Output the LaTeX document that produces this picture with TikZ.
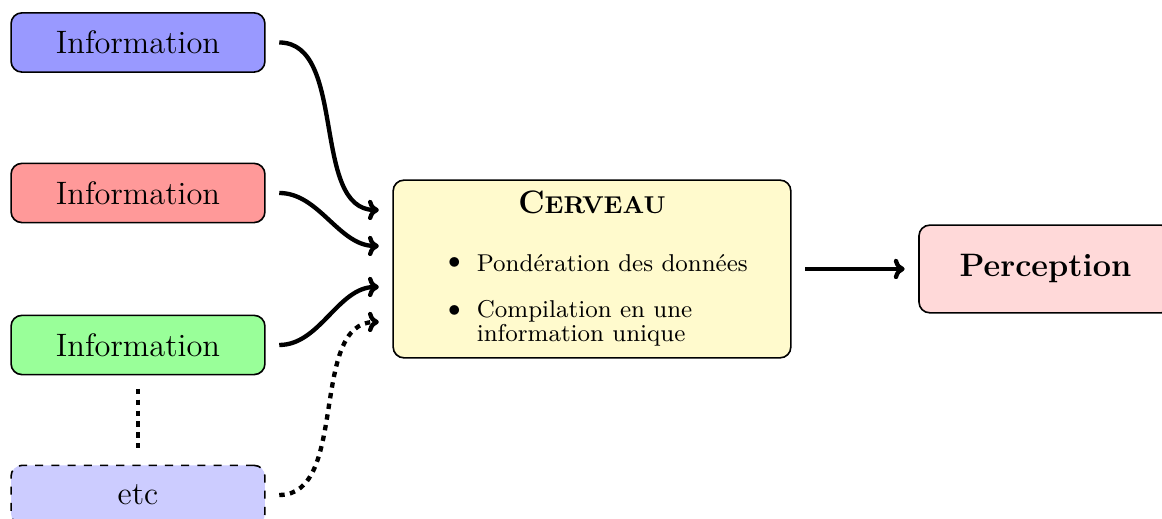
\documentclass[tikz,border=0pt]{standalone}
\usepackage{tikz}
\usetikzlibrary{calc,positioning,arrows.meta}
\definecolor{cervfill}{RGB}{255,250,205}

\begin{document}
\begin{tikzpicture}[x=0.013cm,y=0.013cm,
  infobox/.style={draw,semithick,rounded corners,minimum width=3.3cm,minimum height=0.77cm,font=\large},
  fleche/.style={-{To[length=4pt,width=7.5pt]},ultra thick,shorten <=5pt,shorten >=5pt},
  pointille/.style={ultra thick,dash pattern=on 2pt off 2pt,shorten <=5pt,shorten >=5pt}]
\useasboundingbox (0,0) rectangle (1162,519);
\node[infobox,fill=blue!40] (info1) at (138,476.5) {Information};
\node[infobox,fill=red!40] (info2) at (138,326) {Information};
\node[infobox,fill=green!40] (info3) at (138,174) {Information};
\node[infobox,fill=blue!20,dashed] (etc) at (138,24) {etc};
\node[draw,semithick,rounded corners,fill=cervfill,minimum width=5.17cm,minimum height=2.31cm] (cerv) at (592,250) {};
\node[font=\large\bfseries] (titre) at ($(cerv.north)+(0,-23)$) {C{\small ERVEAU}};
\node[anchor=west,inner xsep=0pt,font=\small] (item1) at ($(cerv.west)+(84,6)$) {Pondération des données};
\node[anchor=west,inner xsep=0pt,font=\small,align=left] (item2) at ($(cerv.west)+(84,-54.5)$) {Compilation en une\\[-2pt]information unique};
\node[font=\small] (puce1) at ($(cerv.west)+(62,6)$) {$\bullet$};
\node[font=\small] (puce2) at ($(cerv.west)+(62,-42)$) {$\bullet$};
\node[draw,semithick,rounded corners,fill=red!15,minimum width=3.29cm,minimum height=1.14cm,font=\large\bfseries] (perc) at (1045.5,250) {Perception};
\draw[fleche] (info1.east) to[out=0,in=180] ($(cerv.west)+(0,59)$);
\draw[fleche] (info2.east) to[out=0,in=180] ($(cerv.west)+(0,23)$);
\draw[fleche] (info3.east) to[out=0,in=180] ($(cerv.west)+(0,-18)$);
\draw[fleche,pointille] (etc.east) to[out=0,in=180] ($(cerv.west)+(0,-53)$);
\draw[pointille] (info3.south) -- (etc.north);
\draw[fleche] (cerv.east) -- (perc.west);
\end{tikzpicture}
\end{document}
